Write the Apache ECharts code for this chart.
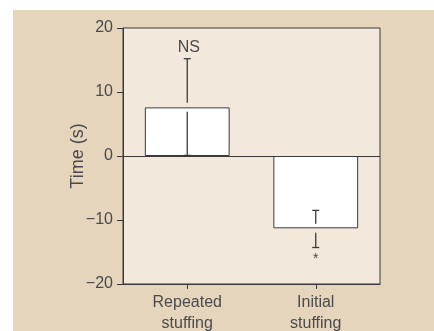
<!DOCTYPE html>
<html>
<head>
<meta charset="utf-8">
<script src="https://cdn.jsdelivr.net/npm/echarts@6/dist/echarts.min.js"></script>
<style>
  html, body { margin: 0; padding: 0; background: #ffffff; }
  #wrap { position: relative; width: 434px; height: 331px; overflow: hidden; }
  #panel { position: absolute; left: 13px; top: 10px; right: 0; bottom: 0; background: #e6d5bd; }
  #chart { position: absolute; left: 0; top: 0; width: 434px; height: 331px; }
</style>
</head>
<body>
<div id="wrap"><div id="panel"></div><div id="chart"></div></div>
<script>
// Data
var categories = ['Repeated\nstuffing', 'Initial\nstuffing'];
var means = [7.6, -11.3];
var errLow = [0.1, -14.3];
var errHigh = [15.2, -8.5];
var sigLabels = ['NS', '*'];
var yTicks = { min: -20, max: 20, interval: 10 };

var FONT = 'Liberation Sans, Arial, sans-serif';
var TXT = '#4a4a4a';
var INK = '#3a3a3a';

var errData = categories.map(function (c, i) {
  return [i, means[i], errLow[i], errHigh[i], sigLabels[i]];
});

var chart = echarts.init(document.getElementById('chart'), null, { renderer: 'canvas' });
chart.setOption({
  backgroundColor: 'transparent',
  animation: false,
  grid: {
    left: 123, right: 54, top: 28, bottom: 47,
    containLabel: false,
    outerBoundsMode: 'none',
    show: true, backgroundColor: '#f2e9dc', borderColor: INK, borderWidth: 1
  },
  xAxis: {
    type: 'category',
    data: categories,
    boundaryGap: true,
    axisLine: { show: true, onZero: false, lineStyle: { color: INK, width: 1 } },
    axisTick: { show: true, alignWithLabel: true, length: 5, lineStyle: { color: INK } },
    axisLabel: { color: TXT, fontFamily: FONT, fontSize: 16, lineHeight: 21, margin: 8 },
    splitLine: { show: false }
  },
  yAxis: {
    type: 'value',
    min: yTicks.min, max: yTicks.max, interval: yTicks.interval,
    name: 'Time (s)',
    nameLocation: 'middle',
    nameGap: 36,
    nameRotate: 90,
    nameMoveOverlap: false,
    nameTextStyle: { color: TXT, fontFamily: FONT, fontSize: 18 },
    axisLine: { show: true, lineStyle: { color: INK, width: 1 } },
    axisTick: { show: true, length: 6, lineStyle: { color: INK } },
    axisLabel: {
      color: TXT, fontFamily: FONT, fontSize: 16, margin: 10,
      formatter: function (v) { return v < 0 ? '\u2212' + Math.abs(v) : String(v); }
    },
    splitLine: { show: false }
  },
  series: [
    {
      type: 'bar',
      data: means,
      barWidth: '66%',
      itemStyle: { color: '#ffffff', borderColor: INK, borderWidth: 1 },
      z: 2,
      markLine: {
        silent: true,
        symbol: ['none', 'none'],
        label: { show: false },
        lineStyle: { color: INK, width: 1, type: 'solid' },
        data: [{ yAxis: 0 }]
      }
    },
    {
      type: 'custom',
      z: 5,
      data: errData,
      renderItem: function (params, api) {
        var x = api.coord([api.value(0), 0])[0];
        var yMean = api.coord([api.value(0), api.value(1)])[1];
        var yLo = api.coord([api.value(0), api.value(2)])[1];
        var yHi = api.coord([api.value(0), api.value(3)])[1];
        var cap = 3.5, gap = 4.5;
        var style = { stroke: INK, lineWidth: 1.3 };
        var top = Math.min(yLo, yHi), bot = Math.max(yLo, yHi);
        var children = [];
        // vertical whisker split around the bar edge
        children.push({ type: 'line', shape: { x1: x, y1: top, x2: x, y2: yMean - gap }, style: style });
        children.push({ type: 'line', shape: { x1: x, y1: yMean + gap, x2: x, y2: bot }, style: style });
        children.push({ type: 'line', shape: { x1: x - cap, y1: top, x2: x + cap, y2: top }, style: style });
        children.push({ type: 'line', shape: { x1: x - cap, y1: bot, x2: x + cap, y2: bot }, style: style });
        var lbl = api.value(4);
        var above = api.value(1) >= 0;
        children.push({
          type: 'text',
          style: {
            text: lbl,
            x: x + (above ? 1.5 : 0),
            y: above ? top - 3 : bot + 5,
            align: 'center',
            verticalAlign: above ? 'bottom' : 'top',
            fill: TXT,
            font: (above ? 16 : 14) + 'px ' + FONT
          }
        });
        return { type: 'group', children: children };
      }
    }
  ]
});
</script>
</body>
</html>
